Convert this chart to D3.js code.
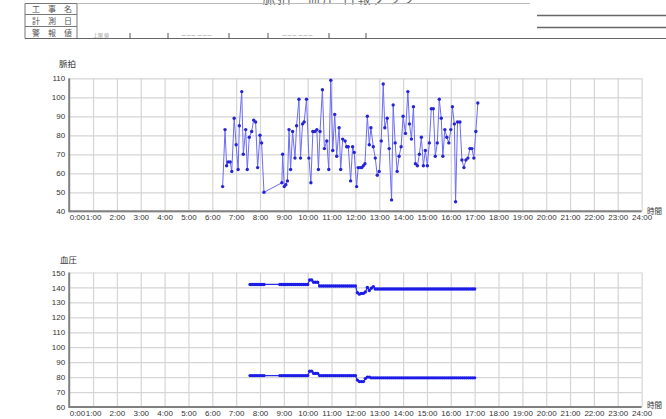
<!DOCTYPE html>
<html><head><meta charset="utf-8">
<script src="https://cdn.jsdelivr.net/npm/d3@7"></script>
<style>
body{margin:0;background:#fff}
svg{display:block}
text{font-family:"Liberation Sans",Arial,"Noto Sans CJK JP",sans-serif}
.jp{font-family:"Noto Sans CJK JP",sans-serif}
</style>
</head><body>
<svg id="c" width="666" height="419"></svg>
<script>
// ---------- data ----------
const hourLabels = ["0:00","1:00","2:00","3:00","4:00","5:00","6:00","7:00","8:00","9:00","10:00","11:00","12:00",
  "13:00","14:00","15:00","16:00","17:00","18:00","19:00","20:00","21:00","22:00","23:00","24:00"];
const pulseTicks = [40,50,60,70,80,90,100,110];
const bpTicks = [60,70,80,90,100,110,120,130,140,150];

const pulseTimes = ["6:26","6:32","6:36","6:40","6:45","6:49","6:55","7:00","7:05","7:08","7:14","7:18","7:24","7:28","7:33","7:39","7:44","7:49","7:54","8:00","8:04","8:10",
  "8:55","8:57","9:01","9:05","9:09","9:13","9:17","9:22","9:28","9:32","9:38","9:42","9:47","9:51","9:57",
  "10:03","10:08","10:13","10:18","10:23","10:27","10:31","10:37","10:42","10:48","10:53","10:58",
  "11:03","11:08","11:13","11:19","11:23","11:28","11:34","11:38","11:42","11:48","11:53","11:57",
  "12:03","12:07","12:12","12:16","12:20","12:24","12:30","12:35","12:39","12:45","12:50","12:55",
  "13:00","13:05","13:10","13:14","13:20","13:25","13:31","13:35","13:40","13:45","13:50","13:55",
  "14:00","14:06","14:12","14:16","14:21","14:26","14:31","14:36","14:41","14:46","14:51","14:56",
  "15:01","15:06","15:11","15:16","15:21","15:26","15:31","15:36","15:40","15:45","15:50","15:55",
  "16:00","16:04","16:09","16:12","16:17","16:23","16:28","16:33","16:38","16:43","16:48","16:53","16:58",
  "17:03","17:08"];
const pulseValues = [53,83,64,66,66,61,89,75,62,85,103,70,83,62,79,82,88,87,63,80,76,50,
  55,70,53,54,56,83,62,82,68,85,99,68,86,87,99,
  68,55,82,82,83,62,82,104,73,77,62,109,
  72,91,69,84,62,78,77,74,74,56,74,71,
  53,63,63,63,64,65,90,75,84,74,68,59,
  61,77,107,84,89,73,46,96,76,61,69,74,
  90,81,103,86,78,95,65,64,70,79,64,72,
  64,76,94,94,69,76,99,89,69,83,79,76,
  83,95,86,45,87,87,67,63,67,68,73,73,68,
  82,97];

const bpTimes = ["7:35","7:40","7:45","7:50","7:55","8:00","8:05","8:10",
  "8:50","8:55",
  "9:00","9:05","9:10","9:15","9:20","9:25","9:30","9:35","9:40","9:45","9:50","9:55",
  "10:00","10:05","10:10","10:15","10:20","10:25","10:30","10:35","10:40","10:45","10:50","10:55",
  "11:00","11:05","11:10","11:15","11:20","11:25","11:30","11:35","11:40","11:45","11:50","11:55",
  "12:00","12:05","12:10","12:15","12:20","12:25","12:30","12:35","12:40","12:45","12:50","12:55",
  "13:00","13:05","13:10","13:15","13:20","13:25","13:30","13:35","13:40","13:45","13:50","13:55",
  "14:00","14:05","14:10","14:15","14:20","14:25","14:30","14:35","14:40","14:45","14:50","14:55",
  "15:00","15:05","15:10","15:15","15:20","15:25","15:30","15:35","15:40","15:45","15:50","15:55",
  "16:00","16:05","16:10","16:15","16:20","16:25","16:30","16:35","16:40","16:45","16:50","16:55",
  "17:00"];
const systolic = [142,142,142,142,142,142,142,142,
  142,142,
  142,142,142,142,142,142,142,142,142,142,142,142,
  142,145,145,143.5,143.5,143.5,141,141,141,141,141,141,
  141,141,141,141,141,141,141,141,141,141,141,141,
  141,136.5,135.5,136,136,137,140,138,139.5,140.5,139,139,
  139,139,139,139,139,139,139,139,139,139,139,139,
  139,139,139,139,139,139,139,139,139,139,139,139,
  139,139,139,139,139,139,139,139,139,139,139,139,
  139,139,139,139,139,139,139,139,139,139,139,139,
  139];
const diastolic = [81,81,81,81,81,81,81,81,
  81,81,
  81,81,81,81,81,81,81,81,81,81,81,81,
  81,84,84,82.5,82.5,82.5,81,81,81,81,81,81,
  81,81,81,81,81,81,81,81,81,81,81,81,
  81,78,77,77,77,79,80,80,79.5,79.5,79.5,79.5,
  79.5,79.5,79.5,79.5,79.5,79.5,79.5,79.5,79.5,79.5,79.5,79.5,
  79.5,79.5,79.5,79.5,79.5,79.5,79.5,79.5,79.5,79.5,79.5,79.5,
  79.5,79.5,79.5,79.5,79.5,79.5,79.5,79.5,79.5,79.5,79.5,79.5,
  79.5,79.5,79.5,79.5,79.5,79.5,79.5,79.5,79.5,79.5,79.5,79.5,
  79.5];

// ---------- drawing ----------
const svg = d3.select("#c");
const parseT = s => { const [h, m] = s.split(":").map(Number); return h + m / 60; };
const hourVals = hourLabels.map(parseT);
const x = d3.scaleLinear().domain([0, 24]).range([69.2, 641.6]);

// header
const hdr = svg.append("g");
hdr.append("text").attr("class","jp").attr("x",340).attr("y",2.5).attr("text-anchor","middle")
  .attr("font-size",13).attr("fill","#666").attr("letter-spacing",2).text("脈拍・血圧 日報グラフ");
const hl = (x1,y1,x2,y2,c,w)=>hdr.append("line").attr("x1",x1).attr("y1",y1).attr("x2",x2).attr("y2",y2)
  .attr("stroke",c||"#777").attr("stroke-width",w||1);
hl(25,3.5,25,38.5); hl(77,3.5,77,38.5);
hl(25,3.5,77,3.5); hl(25,14.5,77,14.5); hl(25,26.5,77,26.5);
hl(25,38.5,666,38.5,"#666",1);
hl(77,3.5,530,3.5,"#bbb",1);
hl(537,15.5,666,15.5,"#666",1.5); hl(537,27.5,666,27.5,"#666",1.5);
[["工事名",12],["計測日",24],["警報値",35.8]].forEach(d=>{
  hdr.append("text").attr("class","jp").attr("x",32).attr("y",d[1]).attr("font-size",8)
    .attr("fill","#555").attr("letter-spacing",8).text(d[0]);
});
[130,168,229,268,329,366].forEach(t=>hl(t,33,t,38.5,"#555",1));
[[93,"上限 値"],[181,"ーーー ーーー"],[282,"ーーー ーーー"]].forEach(d=>{
  hdr.append("text").attr("class","jp").attr("x",d[0]).attr("y",37).attr("font-size",5)
    .attr("fill","#999").text(d[1]);
});

function chart(cfg) {
  const y = d3.scaleLinear().domain(cfg.domain).range([cfg.bottom, cfg.top]);
  const g = svg.append("g");
  // horizontal grid
  g.append("g").attr("transform", `translate(${x(0)},0)`)
    .call(d3.axisLeft(y).tickValues(cfg.ticks).tickSize(-(x(24) - x(0))).tickFormat(""))
    .call(a => { a.select(".domain").remove(); a.selectAll("line").attr("stroke", "#d5d5d5").attr("stroke-width", 1.2); });
  // vertical grid
  g.append("g").attr("transform", `translate(0,${cfg.bottom})`)
    .call(d3.axisBottom(x).tickValues(hourVals.slice(1)).tickSize(-(cfg.bottom - cfg.top)).tickFormat(""))
    .call(a => { a.select(".domain").remove(); a.selectAll("line").attr("stroke", "#d5d5d5").attr("stroke-width", 1.2); });
  // y labels
  g.append("g").attr("transform", `translate(${x(0)},0)`)
    .call(d3.axisLeft(y).tickValues(cfg.ticks).tickSize(0).tickPadding(4))
    .call(a => { a.select(".domain").remove();
      a.selectAll("text").attr("font-size", 8).attr("fill", "#333").attr("font-family", "Liberation Sans, Arial, sans-serif"); });
  // x labels
  g.append("g").attr("transform", `translate(0,${cfg.bottom})`)
    .call(d3.axisBottom(x).tickValues(hourVals).tickSize(0).tickPadding(3.5).tickFormat((d, i) => hourLabels[i]))
    .call(a => { a.select(".domain").remove();
      a.selectAll("text").attr("font-size", 8).attr("fill", "#333").attr("font-family", "Liberation Sans, Arial, sans-serif");
      a.selectAll("text").filter((d, i) => i === 0).attr("text-anchor", "start"); });
  // axis lines
  g.append("line").attr("x1", x(0)).attr("x2", x(0)).attr("y1", cfg.top).attr("y2", cfg.bottom + 1)
    .attr("stroke", "#808080").attr("stroke-width", 2);
  g.append("line").attr("x1", x(0)).attr("x2", x(24)).attr("y1", cfg.bottom).attr("y2", cfg.bottom)
    .attr("stroke", "#808080").attr("stroke-width", 2);
  // titles
  g.append("text").attr("class", "jp").attr("x", cfg.titleX).attr("y", cfg.titleY).attr("font-size", 8.5)
    .attr("fill", "#333").text(cfg.title);
  g.append("text").attr("class", "jp").attr("x", 647).attr("y", cfg.unitY).attr("font-size", 7.5)
    .attr("fill", "#333").text("時間");
  // series
  cfg.series.forEach(s => {
    const pts = s.times.map((t, i) => [parseT(t), s.values[i]]);
    g.append("path").datum(pts).attr("fill", "none").attr("stroke", s.line).attr("stroke-width", s.lw)
      .attr("d", d3.line().x(d => x(d[0])).y(d => y(d[1])));
    g.append("g").selectAll("circle").data(pts).join("circle")
      .attr("cx", d => x(d[0])).attr("cy", d => y(d[1])).attr("r", s.r).attr("fill", s.marker);
  });
}

chart({ top: 78.3, bottom: 211.3, domain: [40, 110], ticks: pulseTicks, title: "脈拍", titleX: 59, titleY: 67, unitY: 214,
  series: [{ times: pulseTimes, values: pulseValues, line: "#6c6cf2", lw: 1, marker: "#2525d6", r: 1.7 }] });
chart({ top: 272.5, bottom: 407, domain: [60, 150], ticks: bpTicks, title: "血圧", titleX: 60, titleY: 263, unitY: 408,
  series: [
    { times: bpTimes, values: systolic, line: "#2a2af0", lw: 1.2, marker: "#1c1ce8", r: 1.7 },
    { times: bpTimes, values: diastolic, line: "#2a2af0", lw: 1.2, marker: "#1c1ce8", r: 1.7 }
  ] });
</script>
</body></html>
